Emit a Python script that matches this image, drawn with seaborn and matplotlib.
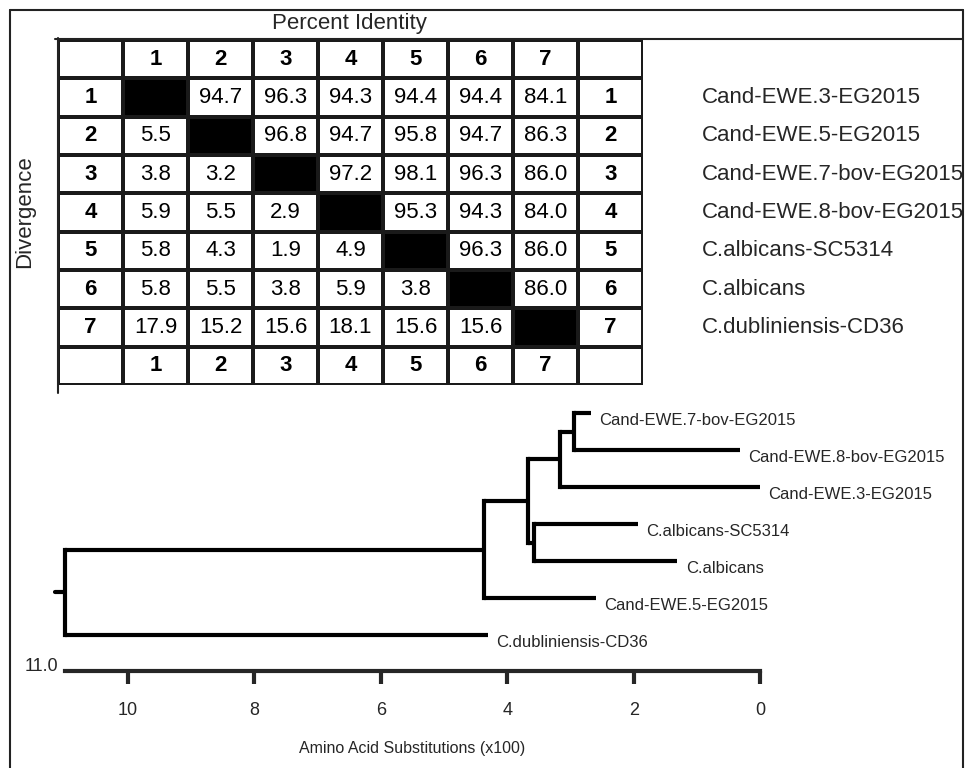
import numpy as np
import seaborn as sns
import matplotlib.pyplot as plt
from matplotlib.colors import ListedColormap
from matplotlib.lines import Line2D

sns.set_style("white")
plt.rcParams['font.family'] = ['Liberation Sans', 'DejaVu Sans']

# 서열 번호와 이름
seq_ids = ["1", "2", "3", "4", "5", "6", "7"]
seq_names = ["Cand-EWE.3-EG2015", "Cand-EWE.5-EG2015", "Cand-EWE.7-bov-EG2015",
             "Cand-EWE.8-bov-EG2015", "C.albicans-SC5314", "C.albicans",
             "C.dubliniensis-CD36"]

# 위쪽 삼각형 = Percent Identity, 아래쪽 삼각형 = Divergence
pairwise = [
    [None, 94.7, 96.3, 94.3, 94.4, 94.4, 84.1],
    [5.5, None, 96.8, 94.7, 95.8, 94.7, 86.3],
    [3.8, 3.2, None, 97.2, 98.1, 96.3, 86.0],
    [5.9, 5.5, 2.9, None, 95.3, 94.3, 84.0],
    [5.8, 4.3, 1.9, 4.9, None, 96.3, 86.0],
    [5.8, 5.5, 3.8, 5.9, 3.8, None, 86.0],
    [17.9, 15.2, 15.6, 18.1, 15.6, 15.6, None],
]

# 계통수: 잎 순서, 잎 끝 위치, 내부 노드 (자식, 위치)
tree_leaves = ["Cand-EWE.7-bov-EG2015", "Cand-EWE.8-bov-EG2015", "Cand-EWE.3-EG2015",
               "C.albicans-SC5314", "C.albicans", "Cand-EWE.5-EG2015",
               "C.dubliniensis-CD36"]
leaf_dist = [2.68, 0.32, 0.0, 1.94, 1.31, 2.60, 4.31]
node_children = [(0, 1), (7, 2), (3, 4), (8, 9), (10, 5), (11, 6)]
node_dist = [2.94, 3.17, 3.58, 3.68, 4.37, 11.0]
scale_ticks = [10, 8, 6, 4, 2, 0]

W, H = 974, 768
fig = plt.figure(figsize=(W / 100, H / 100), dpi=100)

def fx(px):
    return px / W

def fy(py):
    return 1 - py / H

# 표 (heatmap) 만들기
n = len(seq_ids)
cells = [[""] + seq_ids + [""]]
colors = [[0] * (n + 2)]
for i in range(n):
    row = [seq_ids[i]]
    crow = [0]
    for j in range(n):
        v = pairwise[i][j]
        row.append("" if v is None else f"{v:.1f}")
        crow.append(1 if v is None else 0)
    row.append(seq_ids[i])
    crow.append(0)
    cells.append(row)
    colors.append(crow)
cells.append([""] + seq_ids + [""])
colors.append([0] * (n + 2))

ax = fig.add_axes([fx(58), fy(385), fx(643 - 58), (385 - 40) / H])
sns.heatmap(np.array(colors), annot=np.array(cells), fmt="",
            cmap=ListedColormap(["white", "black"]), vmin=0, vmax=1,
            cbar=False, linewidths=1.6, linecolor="#1a1a1a",
            xticklabels=False, yticklabels=False,
            annot_kws={"size": 16, "color": "black"}, ax=ax)
for t in ax.texts:
    x, y = t.get_position()
    if x < 1 or x > n + 1 or y < 1 or y > n + 1:
        t.set_fontweight("bold")

for i, name in enumerate(seq_names):
    ax.text(9.91, i + 1.5, name, ha="left", va="center", fontsize=16, clip_on=False)

fig.text(fx(349), fy(23), "Percent Identity", ha="center", va="center", fontsize=16)
fig.text(fx(25), fy(212), "Divergence", ha="center", va="center", fontsize=16, rotation=90)

# 테두리
for xs, ys in [((10, 10), (10, 768)), ((10, 963), (10, 10)), ((963, 963), (10, 768)),
               ((55, 963), (39, 39)), ((58, 58), (38, 393))]:
    fig.add_artist(Line2D([fx(xs[0]), fx(xs[1])], [fy(ys[0]), fy(ys[1])],
                          color="#222222", lw=1.5))

# 계통수
tx = fig.add_axes([fx(40), fy(671), fx(920), (671 - 395) / H])
tx.set_xlim(11.39, -3.16)
tx.set_ylim(6.97, -0.49)
for s in ["top", "right", "left"]:
    tx.spines[s].set_visible(False)
tx.spines["bottom"].set_linewidth(3)
tx.spines["bottom"].set_bounds(0, 11)
tx.set_yticks([])
tx.set_xticks(scale_ticks)
tx.set_xticklabels([str(t) for t in scale_ticks], fontsize=13)
tx.tick_params(axis="x", direction="out", length=9, width=3, pad=13, bottom=True)
tx.text(5.5, -0.28, "Amino Acid Substitutions (x100)", transform=tx.get_xaxis_transform(),
        ha="center", va="center", fontsize=11.5)
tx.text(11.1, 0.0, "11.0", transform=tx.get_xaxis_transform(), ha="right", va="baseline",
        fontsize=13)

ys = list(range(len(tree_leaves)))
xs = list(leaf_dist)
lw = 3
for (a, b), d in zip(node_children, node_dist):
    ya, yb = ys[a], ys[b]
    tx.plot([d, d], [ya, yb], color="black", lw=lw, solid_capstyle="projecting")
    tx.plot([d, xs[a]], [ya, ya], color="black", lw=lw, solid_capstyle="butt")
    tx.plot([d, xs[b]], [yb, yb], color="black", lw=lw, solid_capstyle="butt")
    ys.append((ya + yb) / 2)
    xs.append(d)
tx.plot([node_dist[-1], node_dist[-1] + 0.15], [ys[-1], ys[-1]], color="black", lw=lw)

for i, name in enumerate(tree_leaves):
    tx.annotate(name, (leaf_dist[i], i), xytext=(6, -5), textcoords="offset points",
                ha="left", va="center", fontsize=12)

fig.savefig("out.png", dpi=100)
